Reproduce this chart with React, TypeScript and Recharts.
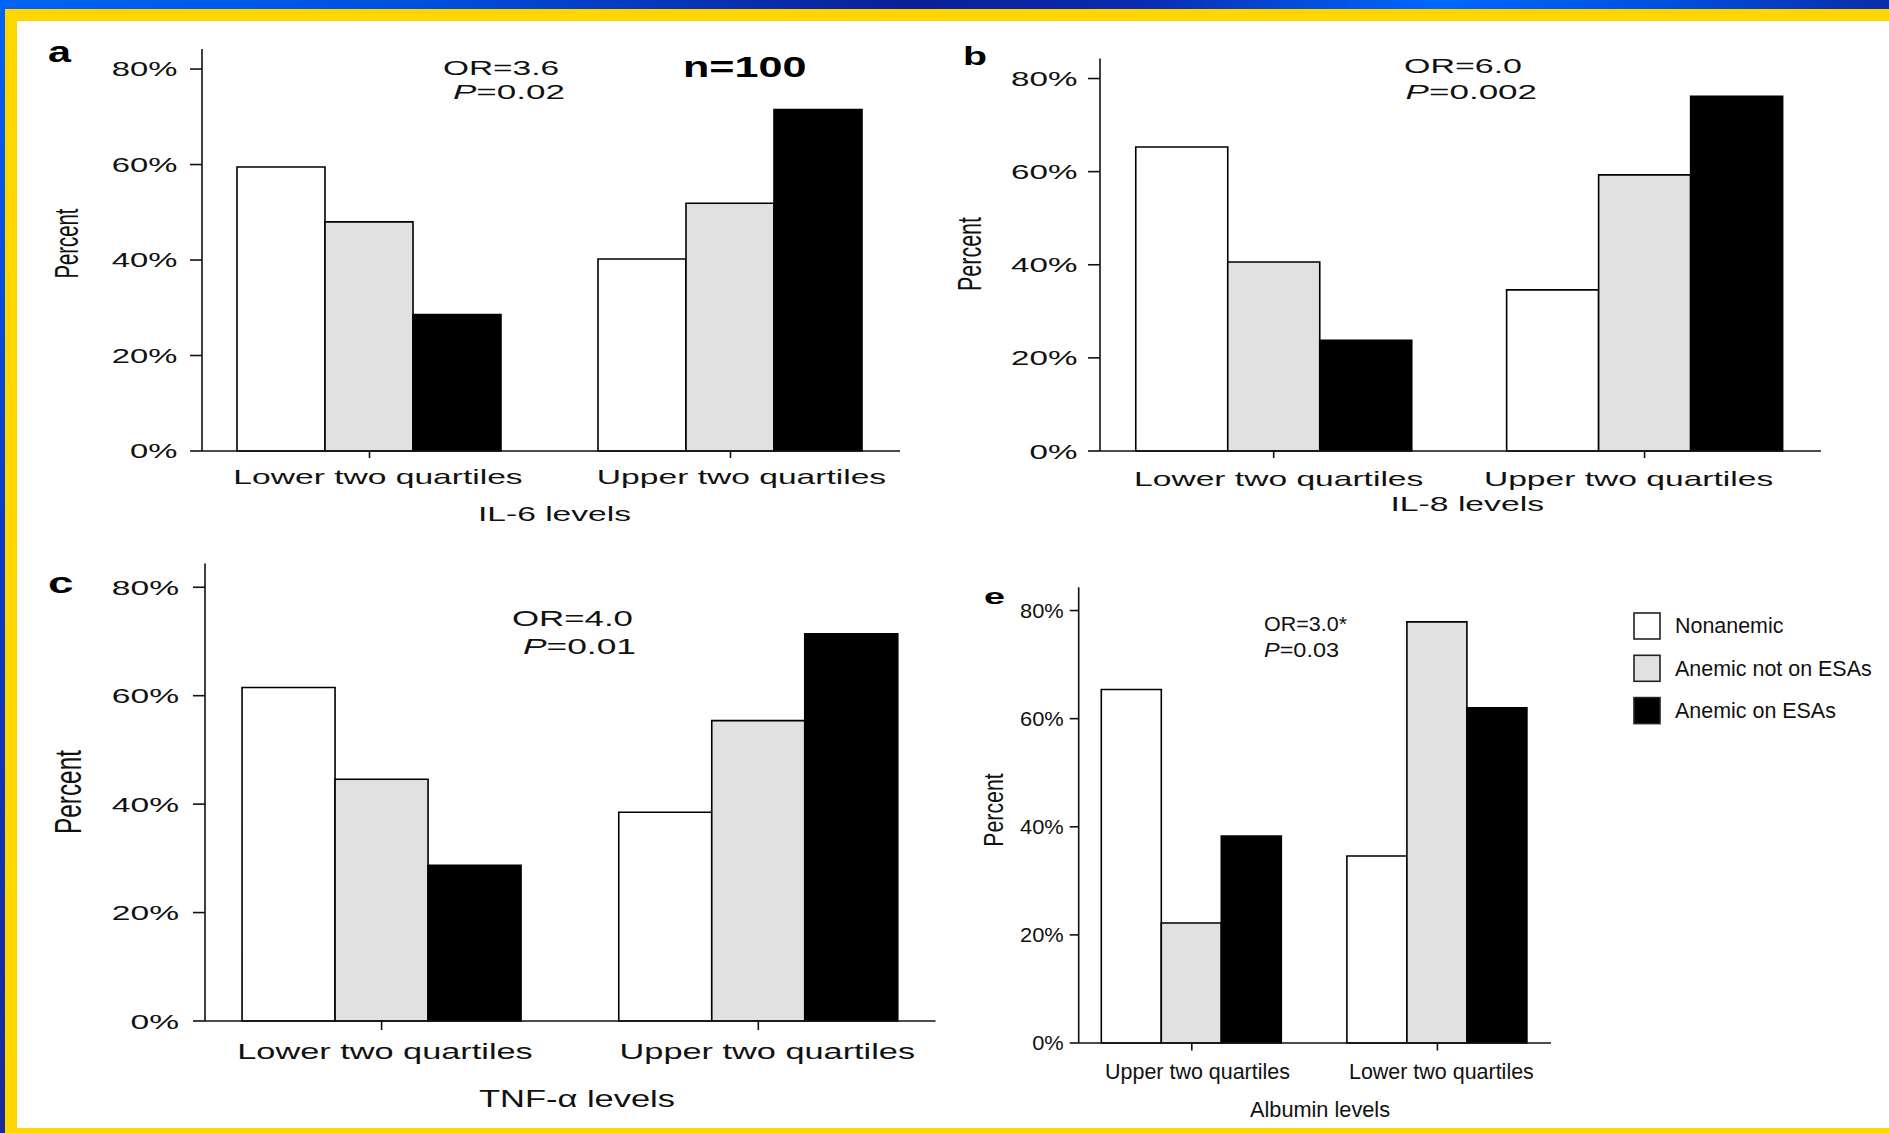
import React from "react";
import { BarChart, Bar, XAxis, YAxis, Legend } from "recharts";

// series shared by all four panels
const SERIES = ["Nonanemic", "Anemic not on ESAs", "Anemic on ESAs"];
const KEYS = ["nonanemic", "anemicNoEsa", "anemicEsa"];
const FILLS = ["#ffffff", "#e1e1e1", "#000000"];
const Y_TICKS = [0, 20, 40, 60, 80];

// a: IL-6
const IL6_CATS = ["Lower two quartiles", "Upper two quartiles"];
const IL6_NONANEMIC = [59.5, 40.2];
const IL6_NO_ESA = [48.0, 51.9];
const IL6_ESA = [28.6, 71.5];

// b: IL-8
const IL8_CATS = ["Lower two quartiles", "Upper two quartiles"];
const IL8_NONANEMIC = [65.3, 34.6];
const IL8_NO_ESA = [40.6, 59.3];
const IL8_ESA = [23.8, 76.2];

// c: TNF-alpha
const TNF_CATS = ["Lower two quartiles", "Upper two quartiles"];
const TNF_NONANEMIC = [61.5, 38.5];
const TNF_NO_ESA = [44.6, 55.4];
const TNF_ESA = [28.7, 71.4];

// e: albumin
const ALB_CATS = ["Upper two quartiles", "Lower two quartiles"];
const ALB_NONANEMIC = [65.4, 34.6];
const ALB_NO_ESA = [22.2, 77.9];
const ALB_ESA = [38.3, 62.0];

const W = 1889;
const H = 1133;
const YW = 100;
const XH = 40;
const FONT = "'Liberation Sans', Arial, Helvetica, sans-serif";
const INK = "#111";
const LINE = { stroke: "#111", strokeWidth: 1.6 };

type Panel = {
  cats: string[];
  values: number[][];
  left: number;
  right: number;
  top: number;
  zero: number;
  yMax: number;
  padL: number;
  padR: number;
  gap: number;
  yLen: number;
  yGap: number;
  yFs: number;
  ySx: number;
  xLen: number;
  xOff: number;
  xFs: number;
  xSx: number;
  xDx: number[];
  legend?: boolean;
};

const PANELS: Panel[] = [
  {
    cats: IL6_CATS, values: [IL6_NONANEMIC, IL6_NO_ESA, IL6_ESA],
    left: 202, right: 900, top: 49, zero: 451, yMax: 84.2,
    padL: -13, padR: -11, gap: 48,
    yLen: 12, yGap: 12.5, yFs: 20.5, ySx: 1.6,
    xLen: 7, xOff: 25.5, xFs: 21, xSx: 1.6, xDx: [8.5, 11],
  },
  {
    cats: IL8_CATS, values: [IL8_NONANEMIC, IL8_NO_ESA, IL8_ESA],
    left: 1100, right: 1821, top: 58.5, zero: 451, yMax: 84.3,
    padL: -11.75, padR: -9, gap: 47.5,
    yLen: 12, yGap: 10.5, yFs: 21, ySx: 1.58,
    xLen: 7, xOff: 27.5, xFs: 21, xSx: 1.6, xDx: [5, -16],
  },
  {
    cats: TNF_CATS, values: [TNF_NONANEMIC, TNF_NO_ESA, TNF_ESA],
    left: 205, right: 935.5, top: 563.4, zero: 1021, yMax: 84.4,
    padL: -11.75, padR: -11.15, gap: 48.8,
    yLen: 12, yGap: 14, yFs: 21, ySx: 1.6,
    xLen: 9, xOff: 29, xFs: 22, xSx: 1.56, xDx: [3.4, 9],
  },
  {
    cats: ALB_CATS, values: [ALB_NONANEMIC, ALB_NO_ESA, ALB_ESA],
    left: 1078.7, right: 1551, top: 587.3, zero: 1043, yMax: 84.3,
    padL: -9.7, padR: -9.2, gap: 32.3,
    yLen: 9, yGap: 6, yFs: 19.5, ySx: 1.12,
    xLen: 7.5, xOff: 28, xFs: 22, xSx: 0.976, xDx: [5.7, 4],
    legend: true,
  },
];

function XTick(props: any) {
  const { x, y, payload, index, p } = props;
  const dx = p.xDx[index] ?? 0;
  return (
    <text
      transform={`translate(${x + dx},${y + p.xOff}) scale(${p.xSx},1)`}
      textAnchor="middle"
      fontSize={p.xFs}
      fontFamily={FONT}
      fill={INK}
    >
      {payload.value}
    </text>
  );
}

function YTick(props: any) {
  const { x, y, payload, p } = props;
  return (
    <text
      transform={`translate(${x - p.yGap},${y}) scale(${p.ySx},1)`}
      textAnchor="end"
      dy="0.36em"
      fontSize={p.yFs}
      fontFamily={FONT}
      fill={INK}
    >
      {payload.value}%
    </text>
  );
}

// legend keeps the series order (the default payload comes sorted by name)
function LegendBox() {
  return (
    <svg width={259} height={130}>
      {SERIES.map((s, i) => (
        <g key={s}>
          <rect x={5} y={8 + i * 42.3} width={26} height={26} fill={FILLS[i]} stroke="#222" strokeWidth={1.6} />
          <text
            transform={`translate(46,${28 + i * 42.5}) scale(0.975,1)`}
            fontSize={22}
            fontFamily={FONT}
            fill={INK}
          >
            {s}
          </text>
        </g>
      ))}
    </svg>
  );
}

function PanelChart({ p }: { p: Panel }) {
  const rows = p.cats.map((c, i) => ({
    cat: c,
    [KEYS[0]]: p.values[0][i],
    [KEYS[1]]: p.values[1][i],
    [KEYS[2]]: p.values[2][i],
  }));
  return (
    <div style={{ position: "absolute", left: 0, top: 0 }}>
      <BarChart
        width={W}
        height={H}
        data={rows}
        margin={{ top: p.top, left: p.left - YW, right: W - p.right, bottom: H - p.zero - XH }}
        barGap={0}
        barCategoryGap={p.gap}
      >
        <XAxis
          dataKey="cat"
          height={XH}
          padding={{ left: p.padL, right: p.padR }}
          interval={0}
          tickSize={p.xLen}
          tickMargin={0}
          axisLine={LINE}
          tickLine={LINE}
          tick={(t: any) => <XTick {...t} p={p} />}
        />
        <YAxis
          width={YW}
          domain={[0, p.yMax]}
          ticks={Y_TICKS}
          interval={0}
          tickSize={p.yLen}
          tickMargin={0}
          axisLine={LINE}
          tickLine={LINE}
          tick={(t: any) => <YTick {...t} p={p} />}
        />
        {KEYS.map((k, i) => (
          <Bar
            key={k}
            dataKey={k}
            name={SERIES[i]}
            fill={FILLS[i]}
            stroke="#000"
            strokeWidth={1.6}
            isAnimationActive={false}
          />
        ))}
        {p.legend && (
          <Legend
            layout="vertical"
            align="center"
            verticalAlign="middle"
            wrapperStyle={{ left: 1629, top: 605, width: 259, height: 130 }}
            content={() => <LegendBox />}
          />
        )}
      </BarChart>
    </div>
  );
}

function T(props: any) {
  const { x, y, w, size, bold, children } = props;
  return (
    <text
      x={x}
      y={y}
      fontSize={size}
      fontWeight={bold ? 700 : 400}
      textLength={w}
      lengthAdjust="spacingAndGlyphs"
      fontFamily={FONT}
      fill={bold ? "#000" : INK}
    >
      {children}
    </text>
  );
}

function VT({ cx, cy, len, size, sx }: any) {
  return (
    <text
      transform={`translate(${cx},${cy}) scale(${sx},1) rotate(-90)`}
      textAnchor="middle"
      dominantBaseline="central"
      fontSize={size}
      textLength={len}
      lengthAdjust="spacingAndGlyphs"
      fontFamily={FONT}
      fill={INK}
    >
      Percent
    </text>
  );
}

export default function App() {
  return (
    <div style={{ position: "absolute", left: 0, top: 0, width: W, height: H, background: "#ffd600", overflow: "hidden" }}>
      <div
        style={{
          position: "absolute", left: 0, top: 0, width: W, height: 9,
          background: "linear-gradient(90deg, #0064f6 0%, #0050e0 22%, #0a1f98 48%, #0a2ab0 60%, #0068ff 76%, #0050e0 88%, #0a2ca8 100%)",
        }}
      />
      <div
        style={{
          position: "absolute", left: 0, top: 0, width: 5, height: H,
          background: "linear-gradient(180deg, #0064f6 0%, #0a3cc8 45%, #1a2a9a 100%)",
        }}
      />
      <div style={{ position: "absolute", left: 17, top: 21, width: W - 17, height: 1107, background: "#fff" }} />

      {PANELS.map((p, i) => (
        <PanelChart key={i} p={p} />
      ))}

      <svg width={W} height={H} style={{ position: "absolute", left: 0, top: 0, pointerEvents: "none" }}>
        {/* a */}
        <T x={48} y={62} w={23} size={30} bold>a</T>
        <T x={443} y={75} w={116} size={21}>OR=3.6</T>
        <T x={453} y={98.5} w={112} size={21}><tspan fontStyle="italic">P</tspan>=0.02</T>
        <T x={683} y={76.7} w={123.5} size={30} bold>n=100</T>
        <VT cx={66.5} cy={243.5} len={70} size={20.5} sx={1.58} />
        <T x={478} y={521} w={153} size={21}>IL-6 levels</T>

        {/* b */}
        <T x={963} y={65.4} w={24} size={25} bold>b</T>
        <T x={1404} y={73} w={118} size={21}>OR=6.0</T>
        <T x={1405.6} y={98.5} w={131.5} size={21}><tspan fontStyle="italic">P</tspan>=0.002</T>
        <VT cx={969.5} cy={254} len={74} size={21} sx={1.6} />
        <T x={1390.5} y={511} w={153.5} size={21}>IL-8 levels</T>

        {/* c */}
        <T x={48} y={593} w={25.5} size={29} bold>c</T>
        <T x={512} y={626} w={121} size={22}>OR=4.0</T>
        <T x={523} y={653.5} w={113} size={22}><tspan fontStyle="italic">P</tspan>=0.01</T>
        <VT cx={67.5} cy={792} len={84} size={24} sx={1.57} />
        <T x={479} y={1107} w={196} size={24}>TNF-α levels</T>

        {/* e */}
        <T x={984} y={604} w={21} size={22} bold>e</T>
        <T x={1264} y={630.5} w={83} size={20}>OR=3.0*</T>
        <T x={1264} y={657} w={75} size={20}><tspan fontStyle="italic">P</tspan>=0.03</T>
        <VT cx={993} cy={810} len={73.4} size={21} sx={1.3} />
        <T x={1250} y={1116.5} w={140} size={22}>Albumin levels</T>
      </svg>
    </div>
  );
}
